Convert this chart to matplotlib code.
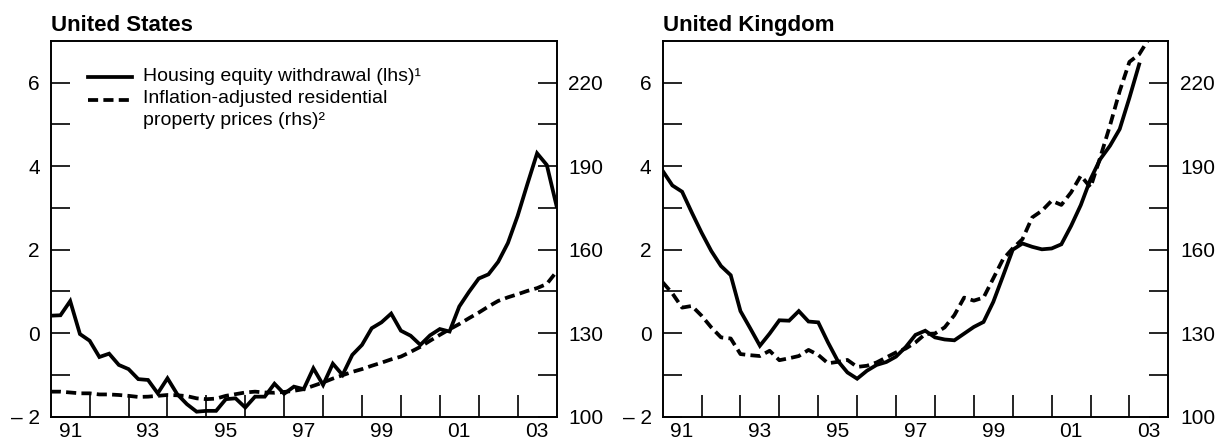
import matplotlib
matplotlib.use("Agg")
import matplotlib.pyplot as plt
from matplotlib.lines import Line2D

plt.rcParams['font.family'] = ['Liberation Sans', 'DejaVu Sans']

# quarterly dates, 1991Q1 .. 2004Q1
quarters = [1991 + 0.25 * i for i in range(53)]

# United States: housing equity withdrawal (lhs) and real property prices (rhs)
us_hew = [0.42, 0.43, 0.77, -0.02, -0.18, -0.57, -0.49, -0.76,
          -0.86, -1.10, -1.12, -1.44, -1.08, -1.46, -1.70, -1.88,
          -1.86, -1.86, -1.58, -1.56, -1.78, -1.52, -1.52, -1.21,
          -1.45, -1.28, -1.34, -0.84, -1.24, -0.73, -1.00, -0.52,
          -0.28, 0.12, 0.26, 0.47, 0.06, -0.06, -0.28, -0.05,
          0.10, 0.04, 0.64, 0.99, 1.31, 1.41, 1.71, 2.16,
          2.81, 3.57, 4.31, 4.03, 3.05]
us_prices = [109.0, 109.0, 108.7, 108.4, 108.4, 108.0, 108.0, 107.8,
             107.5, 107.1, 107.2, 107.5, 107.8, 107.7, 107.4, 106.6,
             106.3, 106.5, 107.5, 108.1, 108.7, 109.0, 108.7, 108.6,
             108.9, 109.3, 109.9, 111.1, 112.3, 113.7, 114.9, 116.1,
             117.1, 118.3, 119.4, 120.6, 121.6, 123.3, 125.1, 127.3,
             129.4, 131.4, 133.3, 135.4, 137.4, 139.6, 141.6, 142.9,
             144.0, 145.2, 146.2, 147.7, 152.1]

# United Kingdom
uk_hew = [3.89, 3.54, 3.39, 2.89, 2.41, 1.97, 1.61, 1.39,
          0.53, 0.12, -0.30, -0.01, 0.31, 0.30, 0.53, 0.28,
          0.26, -0.22, -0.66, -0.94, -1.09, -0.90, -0.76, -0.69,
          -0.56, -0.33, -0.04, 0.06, -0.10, -0.15, -0.17, -0.01,
          0.15, 0.27, 0.75, 1.37, 2.00, 2.15, 2.07, 2.01,
          2.03, 2.13, 2.57, 3.07, 3.69, 4.17, 4.49, 4.89,
          5.64, 6.44]
uk_prices = [148.3, 144.3, 139.2, 139.8, 136.3, 132.1, 128.5, 128.1,
             122.5, 122.1, 121.8, 123.7, 120.3, 121.0, 121.8, 124.0,
             122.2, 119.2, 119.7, 120.4, 117.9, 118.3, 119.5, 121.3,
             123.1, 124.5, 126.7, 129.7, 129.9, 132.1, 136.5, 142.8,
             141.7, 142.8, 149.7, 156.6, 160.5, 163.8, 171.6, 174.0,
             177.6, 176.1, 180.6, 186.6, 182.4, 193.2, 204.6, 217.0,
             227.5, 230.2, 235.8]

year_ticks = list(range(1992, 2004))
label_years = [1991, 1993, 1995, 1997, 1999, 2001, 2003]
lhs_major = [-2, 0, 2, 4, 6]
lhs_minor = [-1, 1, 3, 5]
rhs_major = [100, 130, 160, 190, 220]
rhs_minor = [115, 145, 175, 205]

LW = 2.7
DASH = (2.7, 1.4)
TICK_FS = 15


def lhs_label(v):
    return "\u2013 " + str(abs(v)) if v < 0 else str(v)


def panel(rect, title, hew, prices):
    ax = fig.add_axes(rect)
    ax2 = ax.twinx()
    ax.plot(quarters[:len(hew)], hew, color="black", lw=LW, solid_joinstyle="miter")
    ax2.plot(quarters[:len(prices)], prices, color="black", lw=LW, dashes=DASH)

    ax.set_xlim(1991, 2004)
    ax.set_ylim(-2, 7)
    ax2.set_ylim(100, 235)

    ax.set_xticks(year_ticks)
    ax.set_xticklabels([])
    ax.set_xticks([y + 0.5 for y in label_years], minor=True)
    ax.set_xticklabels([str(y)[2:] for y in label_years], minor=True)
    ax.tick_params(axis="x", which="major", direction="in", length=15.5, width=1.2,
                   top=False)
    ax.tick_params(axis="x", which="minor", length=0, pad=4, labelsize=TICK_FS)

    ax.set_yticks(lhs_major)
    ax.set_yticklabels([lhs_label(v) for v in lhs_major])
    ax.set_yticks(lhs_minor, minor=True)
    ax.tick_params(axis="y", which="both", direction="in", length=13.4, width=1.2,
                   pad=8, labelsize=TICK_FS, right=False)

    ax2.set_yticks(rhs_major)
    ax2.set_yticks(rhs_minor, minor=True)
    ax2.tick_params(axis="y", which="both", direction="in", length=13.4, width=1.2,
                    pad=8.5, labelsize=TICK_FS)

    for a in (ax, ax2):
        for s in a.spines.values():
            s.set_linewidth(1.2)

    ax.text(0.0, 1.027, title, transform=ax.transAxes, fontsize=16,
            fontweight="bold", va="baseline", ha="left")
    return ax


fig = plt.figure(figsize=(12.17, 4.41), dpi=100)

ax_us = panel([0.0417, 0.0551, 0.4156, 0.8519], "United States", us_hew, us_prices)
panel([0.5445, 0.0551, 0.4155, 0.8519], "United Kingdom", uk_hew, uk_prices)

# legend drawn by hand so the handles line up with the first text line
ax_us.add_line(Line2D([0.0743, 0.160], [0.903, 0.903], transform=ax_us.transAxes,
                      color="black", lw=LW))
ax_us.add_line(Line2D([0.0743, 0.160], [0.843, 0.843], transform=ax_us.transAxes,
                      color="black", lw=LW, dashes=DASH))
ax_us.text(0.183, 0.894, "Housing equity withdrawal (lhs)\u00b9",
           transform=ax_us.transAxes, fontsize=14, va="baseline")
ax_us.text(0.183, 0.835, "Inflation-adjusted residential",
           transform=ax_us.transAxes, fontsize=14, va="baseline")
ax_us.text(0.183, 0.777, "property prices (rhs)\u00b2",
           transform=ax_us.transAxes, fontsize=14, va="baseline")

fig.savefig("out.png", dpi=100)
